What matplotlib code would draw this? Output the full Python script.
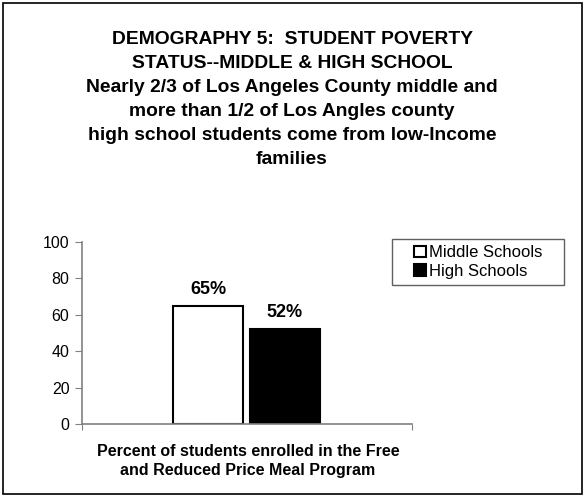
import matplotlib.pyplot as plt
from matplotlib.patches import Rectangle

plt.rcParams['font.family'] = ['Liberation Sans', 'DejaVu Sans']

# data
series = ['Middle Schools', 'High Schools']
values = [65, 52]
labels = ['65%', '52%']
colors = ['white', 'black']
yticks = [0, 20, 40, 60, 80, 100]

title = ("DEMOGRAPHY 5:  STUDENT POVERTY\nSTATUS--MIDDLE & HIGH SCHOOL\n"
         "Nearly 2/3 of Los Angeles County middle and\n"
         "more than 1/2 of Los Angles county\n"
         "high school students come from low-Income\nfamilies")
xlabel = "Percent of students enrolled in the Free\nand Reduced Price Meal Program"

W, H = 584, 496
fig = plt.figure(figsize=(W / 100, H / 100), dpi=100)
ax = fig.add_axes([82 / W, 1 - 424.3 / H, 330 / W, 182.6 / H])

# outer frame
fig.patches.append(Rectangle((2.5 / W, 2.5 / H), 579 / W, 491 / H,
                             transform=fig.transFigure, fill=False,
                             edgecolor='black', linewidth=1.2))

offsets = [-0.118, 0.115]
width = 0.212
for off, v, lab, c, name in zip(offsets, values, labels, colors, series):
    ax.bar(off, v, width=width, color=c, edgecolor='black', linewidth=1.5, label=name)
    ax.text(off, v + 9, lab, ha='center', va='center', fontsize=13, fontweight='bold')

ax.set_xlim(-0.5, 0.5)
ax.set_ylim(0, 100)
ax.set_yticks(yticks)
ax.set_xticks([-0.5, 0.5])
ax.set_xticklabels([])
ax.tick_params(axis='y', labelsize=11.5, length=5, color='#808080', pad=4)
ax.tick_params(axis='x', length=4, color='#808080')
for s in ['top', 'right']:
    ax.spines[s].set_visible(False)
for s in ['left', 'bottom']:
    ax.spines[s].set_color('#808080')
    ax.spines[s].set_linewidth(1.2)

fig.text(292 / W, 1 - 99.5 / H, title, ha='center', va='center', fontsize=13.9,
         fontweight='bold', linespacing=1.55)
fig.text(248 / W, 1 - 461 / H, xlabel, ha='center', va='center', fontsize=11.5,
         fontweight='bold', linespacing=1.38)

# legend box
lx, ly, lw, lh = 392, 239, 172, 46
fig.patches.append(Rectangle((lx / W, 1 - (ly + lh) / H), lw / W, lh / H,
                             transform=fig.transFigure, fill=False,
                             edgecolor='#606060', linewidth=1.0))
leg = fig.legend(loc='center', bbox_to_anchor=(lx / W, 1 - (ly + lh) / H, lw / W, lh / H),
                 fontsize=12, frameon=False,
                 handlelength=0.72, handleheight=0.72, handletextpad=0.18,
                 borderpad=0, labelspacing=0.2, borderaxespad=0)
for h in leg.legend_handles:
    h.set_linewidth(1.5)

fig.savefig('out.png', dpi=100)
